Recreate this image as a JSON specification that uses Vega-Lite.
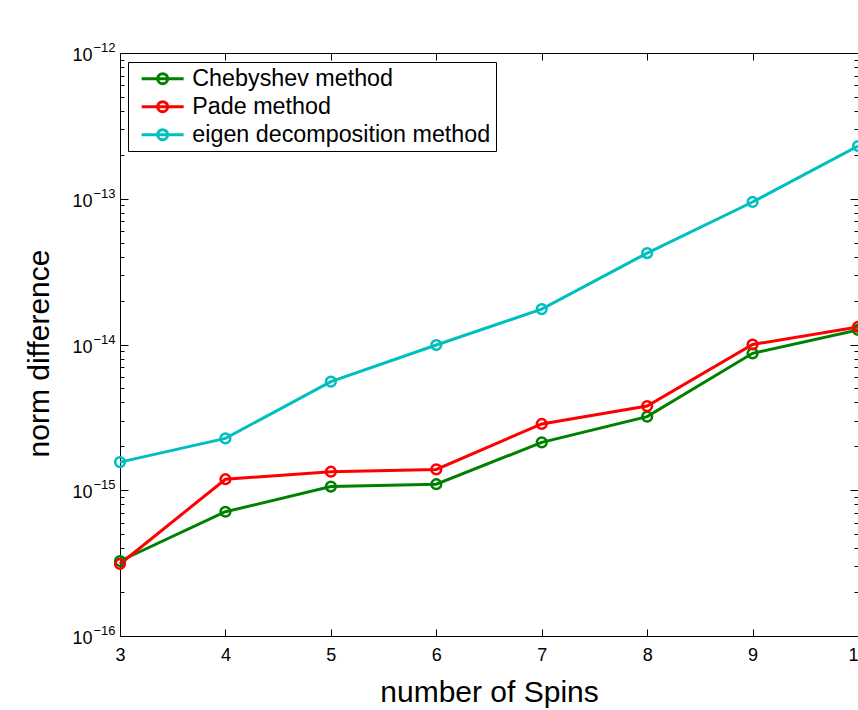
{
  "$schema": "https://vega.github.io/schema/vega-lite/v6.json",
  "autosize": {"type": "none"},
  "width": 738,
  "height": 583,
  "padding": {"left": 120, "top": 53, "right": 0, "bottom": 74},
  "background": "white",
  "data": {"values": [
    {"n": 3, "value": 3.27e-16, "series": "Chebyshev method"},
    {"n": 4, "value": 7.12e-16, "series": "Chebyshev method"},
    {"n": 5, "value": 1.06e-15, "series": "Chebyshev method"},
    {"n": 6, "value": 1.10e-15, "series": "Chebyshev method"},
    {"n": 7, "value": 2.13e-15, "series": "Chebyshev method"},
    {"n": 8, "value": 3.20e-15, "series": "Chebyshev method"},
    {"n": 9, "value": 8.70e-15, "series": "Chebyshev method"},
    {"n": 10, "value": 1.26e-14, "series": "Chebyshev method"},
    {"n": 3, "value": 3.12e-16, "series": "Pade method"},
    {"n": 4, "value": 1.19e-15, "series": "Pade method"},
    {"n": 5, "value": 1.34e-15, "series": "Pade method"},
    {"n": 6, "value": 1.39e-15, "series": "Pade method"},
    {"n": 7, "value": 2.85e-15, "series": "Pade method"},
    {"n": 8, "value": 3.78e-15, "series": "Pade method"},
    {"n": 9, "value": 1.00e-14, "series": "Pade method"},
    {"n": 10, "value": 1.32e-14, "series": "Pade method"},
    {"n": 3, "value": 1.56e-15, "series": "eigen decomposition method"},
    {"n": 4, "value": 2.27e-15, "series": "eigen decomposition method"},
    {"n": 5, "value": 5.56e-15, "series": "eigen decomposition method"},
    {"n": 6, "value": 9.92e-15, "series": "eigen decomposition method"},
    {"n": 7, "value": 1.75e-14, "series": "eigen decomposition method"},
    {"n": 8, "value": 4.24e-14, "series": "eigen decomposition method"},
    {"n": 9, "value": 9.50e-14, "series": "eigen decomposition method"},
    {"n": 10, "value": 2.30e-13, "series": "eigen decomposition method"}
  ]},
  "resolve": {"axis": {"x": "independent", "y": "independent"}},
  "layer": [
    {
      "mark": {"type": "line", "strokeWidth": 3},
      "encoding": {
        "x": {"field": "n", "type": "quantitative",
          "scale": {"domain": [3, 10], "zero": false, "nice": false},
          "axis": {"orient": "bottom", "values": [3,4,5,6,7,8,9,10], "ticks": false, "domain": false, "grid": false,
            "labelFontSize": 18, "labelPadding": 10, "labelFlush": false, "labelOverlap": false,
            "title": "number of Spins", "titleFontSize": 30, "titleBaseline": "alphabetic", "titleY": 65}},
        "y": {"field": "value", "type": "quantitative",
          "scale": {"type": "log", "domain": [1e-16, 1e-12], "nice": false},
          "axis": {"orient": "left", "values": [1e-16, 1e-15, 1e-14, 1e-13, 1e-12], "ticks": false, "domain": false, "grid": false,
            "labelExpr": "'10'", "labelFontSize": 18, "labelPadding": 28, "labelOffset": 2.5, "labelBaseline": "middle", "labelFlush": false, "labelOverlap": false,
            "title": "norm difference", "titleFontSize": 30, "titleBaseline": "alphabetic", "titleX": -72, "titleY": 300, "titleAngle": 270}},
        "color": {"field": "series", "type": "nominal",
          "scale": {"domain": ["Chebyshev method", "Pade method", "eigen decomposition method"], "range": ["#008000", "#ff0000", "#00bfbf"]},
          "legend": {"title": null, "orient": "none", "legendX": 8, "legendY": 9}}
      }
    },
    {
      "mark": {"type": "point", "shape": "circle", "filled": false, "size": 95, "strokeWidth": 2.5, "opacity": 1},
      "encoding": {
        "x": {"field": "n", "type": "quantitative",
          "axis": {"orient": "top", "values": [3,4,5,6,7,8,9,10], "labels": false, "domain": false, "grid": false, "tickSize": -7, "title": null}},
        "y": {"field": "value", "type": "quantitative",
          "axis": {"orient": "left", "values": [1e-16, 1e-15, 1e-14, 1e-13, 1e-12], "ticks": false, "domain": false, "grid": false,
            "labelExpr": "'\u2212' + format(-round(log(datum.value)/LN10), 'd')", "labelFontSize": 13, "labelPadding": 5, "labelOffset": -5.5, "labelBaseline": "middle", "labelFlush": false, "labelOverlap": false, "title": null}},
        "color": {"field": "series", "type": "nominal"}
      }
    },
    {
      "mark": {"type": "point", "opacity": 0},
      "encoding": {
        "x": {"field": "n", "type": "quantitative",
          "axis": {"orient": "bottom", "values": [3,4,5,6,7,8,9,10], "labels": false, "domain": false, "grid": false, "tickSize": -7, "title": null}},
        "y": {"field": "value", "type": "quantitative",
          "axis": {"orient": "left", "labels": false, "domain": false, "grid": false, "title": null,
            "values": [1e-16,2e-16,3e-16,4e-16,5e-16,6e-16,7e-16,8e-16,9e-16,1e-15,2e-15,3e-15,4e-15,5e-15,6e-15,7e-15,8e-15,9e-15,1e-14,2e-14,3e-14,4e-14,5e-14,6e-14,7e-14,8e-14,9e-14,1e-13,2e-13,3e-13,4e-13,5e-13,6e-13,7e-13,8e-13,9e-13,1e-12],
            "tickSize": {"condition": {"test": "abs(log(datum.value)/LN10 - round(log(datum.value)/LN10)) < 0.01", "value": -8}, "value": -4}}}
      }
    },
    {
      "mark": {"type": "point", "opacity": 0},
      "encoding": {
        "x": {"field": "n", "type": "quantitative", "axis": null},
        "y": {"field": "value", "type": "quantitative",
          "axis": {"orient": "right", "labels": false, "domain": false, "grid": false, "title": null,
            "values": [1e-16,2e-16,3e-16,4e-16,5e-16,6e-16,7e-16,8e-16,9e-16,1e-15,2e-15,3e-15,4e-15,5e-15,6e-15,7e-15,8e-15,9e-15,1e-14,2e-14,3e-14,4e-14,5e-14,6e-14,7e-14,8e-14,9e-14,1e-13,2e-13,3e-13,4e-13,5e-13,6e-13,7e-13,8e-13,9e-13,1e-12],
            "tickSize": {"condition": {"test": "abs(log(datum.value)/LN10 - round(log(datum.value)/LN10)) < 0.01", "value": -8}, "value": -4}}}
      }
    }
  ],
  "config": {
    "font": "Liberation Sans",
    "view": {"stroke": "black", "strokeWidth": 1},
    "axis": {"labelFont": "Liberation Sans", "titleFont": "Liberation Sans", "labelColor": "black", "titleColor": "black", "tickColor": "black", "tickWidth": 1, "titleFontWeight": "normal"},
    "legend": {
      "labelFont": "Liberation Sans", "labelFontSize": 23.3, "labelColor": "black",
      "strokeColor": "black", "strokeWidth": 1, "fillColor": "white", "cornerRadius": 0,
      "padding": 5, "rowPadding": 4,
      "symbolType": "M-2.1,0L2.1,0M0.5,0A0.5,0.5,0,1,1,-0.5,0A0.5,0.5,0,1,1,0.5,0",
      "symbolSize": 400, "symbolStrokeWidth": 3, "symbolFillColor": "transparent", "symbolOffset": 18, "labelOffset": 18,
      "labelLimit": 400
    }
  }
}
